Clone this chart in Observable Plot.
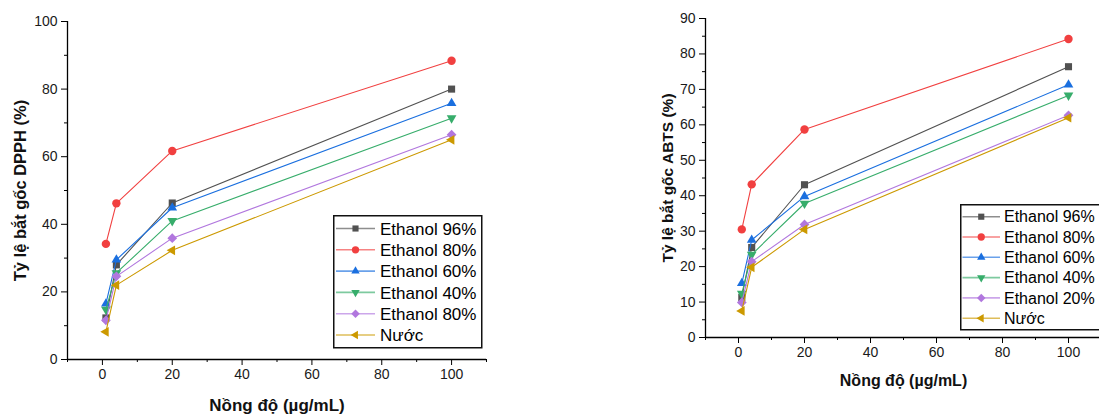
<!DOCTYPE html>
<html><head><meta charset="utf-8">
<script src="https://cdn.jsdelivr.net/npm/d3@7"></script>
<script src="https://cdn.jsdelivr.net/npm/@observablehq/plot@0.6"></script>
<style>
html,body{margin:0;padding:0;background:#fff;}
body{width:1099px;height:414px;overflow:hidden;position:relative;font-family:"Liberation Sans",Arial,sans-serif;}
.panel{position:absolute;top:0;height:414px;}
.panel svg{max-width:none !important;}
.legend{position:absolute;background:#fff;}
</style></head><body>
<script>
// ---- data ----
const concentrations = [1, 4, 20, 100];
const namesDPPH = ["Ethanol 96%", "Ethanol 80%", "Ethanol 60%", "Ethanol 40%", "Ethanol 80%", "Nước"];
const namesABTS = ["Ethanol 96%", "Ethanol 80%", "Ethanol 60%", "Ethanol 40%", "Ethanol 20%", "Nước"];

const dpphE96 = [12.3, 28.0, 46.3, 80.0];
const dpphE80 = [34.2, 46.2, 61.7, 88.4];
const dpphE60 = [16.5, 29.5, 44.9, 75.8];
const dpphE40 = [14.8, 25.6, 41.0, 71.4];
const dpphE80b = [11.6, 24.6, 35.9, 66.5];
const dpphWater = [8.2, 22.0, 32.3, 65.0];

const abtsE96 = [11.3, 25.4, 43.1, 76.4];
const abtsE80 = [30.5, 43.2, 58.7, 84.2];
const abtsE60 = [15.3, 27.5, 39.8, 71.3];
const abtsE40 = [12.4, 23.4, 37.8, 68.3];
const abtsE20 = [9.9, 21.4, 31.9, 62.7];
const abtsWater = [7.5, 19.8, 30.5, 62.0];

const xMajorTicks = [0, 20, 40, 60, 80, 100];
const xMinorTicks = [-10, 10, 30, 50, 70, 90, 110];
const dpphMajorTicks = [0, 20, 40, 60, 80, 100];
const dpphMinorTicks = [10, 30, 50, 70, 90];
const abtsMajorTicks = [0, 10, 20, 30, 40, 50, 60, 70, 80, 90];
const abtsMinorTicks = [5, 15, 25, 35, 45, 55, 65, 75, 85];

const xLabel = "Nồng độ (µg/mL)";
const yLabelDPPH = "Tỷ lệ bắt gốc DPPH (%)";
const yLabelABTS = "Tỷ lệ bắt gốc ABTS (%)";

// ---- styles ----
const colors = ["#515151", "#F14040", "#1A6FDF", "#37AD6B", "#B177DE", "#CC9900"];
const symbols = ["square", "circle", "triangle", "triangle", "square", "triangle"];
const rotations = [0, 0, 0, 180, 45, -90];
const radii = [4, 4.2, 3.6, 3.6, 3.9, 3.6];
const d3symbols = {square: d3.symbolSquare, circle: d3.symbolCircle, triangle: d3.symbolTriangle};

function rowsOf(series) {
  const rows = [];
  series.forEach((vals, s) => vals.forEach((v, i) => rows.push({s, x: concentrations[i], y: v})));
  return rows;
}

function makePlot(cfg) {
  const rows = rowsOf(cfg.series);
  const marks = [
    Plot.ruleY([cfg.yDomain[0]], {stroke: "#000", strokeWidth: 1.3}),
    Plot.ruleX([-10], {stroke: "#000", strokeWidth: 1.3}),
    Plot.axisX({ticks: xMajorTicks, tickSize: 6, tickPadding: 4, label: null, fontSize: cfg.tickFont, stroke: "#000", fill: "#1a1a1a"}),
    Plot.axisX({ticks: xMinorTicks, tickSize: 3, tickFormat: () => "", label: null, stroke: "#000"}),
    Plot.axisY({ticks: cfg.yMajor, tickSize: 6, tickPadding: 4, label: null, fontSize: cfg.tickFont, stroke: "#000", fill: "#1a1a1a"}),
    Plot.axisY({ticks: cfg.yMinor, tickSize: 3, tickFormat: () => "", label: null, stroke: "#000"}),
  ];
  cfg.series.forEach((_, s) => {
    const data = rows.filter(d => d.s === s);
    marks.push(Plot.line(data, {x: "x", y: "y", stroke: colors[s], strokeWidth: 1.1}));
    marks.push(Plot.dot(data, {x: "x", y: "y", symbol: symbols[s], rotate: rotations[s], r: radii[s], fill: colors[s], stroke: "none"}));
  });
  marks.push(Plot.text([xLabel], {text: d => d, frameAnchor: "bottom", dy: cfg.xLabelDy, textAnchor: "middle", lineAnchor: "middle", fontWeight: "bold", fontSize: cfg.labelFont, fill: "#111"}));
  marks.push(Plot.text([cfg.yLabel], {text: d => d, frameAnchor: "left", dx: cfg.yLabelDx, rotate: -90, textAnchor: "middle", lineAnchor: "middle", fontWeight: "bold", fontSize: cfg.yLabelFont, fill: "#111"}));
  return Plot.plot({
    width: cfg.width, height: 414,
    marginLeft: cfg.ml, marginRight: cfg.mr, marginTop: cfg.mt, marginBottom: cfg.mb,
    x: {domain: [-10, 110]},
    y: {domain: cfg.yDomain},
    style: {fontFamily: "Liberation Sans, Arial, sans-serif", fontSize: cfg.tickFont + "px", color: "#1a1a1a", background: "transparent", overflow: "visible", maxWidth: "none"},
    marks
  });
}

function makeLegend(cfg) {
  const div = document.createElement("div");
  div.className = "legend";
  div.style.left = cfg.left + "px";
  div.style.top = cfg.top + "px";
  const svg = d3.create("svg").attr("width", cfg.w + 2).attr("height", cfg.h + 2);
  svg.append("rect").attr("x", 0.75).attr("y", 0.75).attr("width", cfg.w).attr("height", cfg.h)
    .attr("fill", "#fff").attr("stroke", "#111").attr("stroke-width", 1.5);
  cfg.names.forEach((name, s) => {
    const cy = cfg.firstRow + s * cfg.rowH;
    const g = svg.append("g");
    g.append("line").attr("x1", cfg.lx1).attr("x2", cfg.lx2).attr("y1", cy).attr("y2", cy)
      .attr("stroke", colors[s]).attr("stroke-width", 1.6).attr("stroke-opacity", 0.65);
    const size = Math.PI * radii[s] * radii[s] * 0.75;
    g.append("path").attr("d", d3.symbol(d3symbols[symbols[s]], size)())
      .attr("transform", `translate(${(cfg.lx1 + cfg.lx2) / 2},${cy}) rotate(${rotations[s]})`)
      .attr("fill", colors[s]);
    g.append("text").attr("x", cfg.tx).attr("y", cy).attr("dy", "0.36em")
      .attr("font-size", cfg.font).attr("fill", "#000")
      .attr("font-family", "Liberation Sans, Arial, sans-serif").text(name);
  });
  div.appendChild(svg.node());
  return div;
}

const left = makePlot({
  series: [dpphE96, dpphE80, dpphE60, dpphE40, dpphE80b, dpphWater],
  width: 500, ml: 67, mr: 14, mt: 21, mb: 55,
  yDomain: [0, 100], yMajor: dpphMajorTicks, yMinor: dpphMinorTicks,
  tickFont: 14, labelFont: 17, yLabelFont: 16.5, xLabelDy: 46, yLabelDx: -47, yLabel: yLabelDPPH
});
const leftWrap = document.createElement("div");
leftWrap.className = "panel"; leftWrap.style.left = "0px"; leftWrap.style.width = "500px";
leftWrap.appendChild(left);
document.body.appendChild(leftWrap);

const right = makePlot({
  series: [abtsE96, abtsE80, abtsE60, abtsE40, abtsE20, abtsWater],
  width: 510, ml: 105, mr: 9, mt: 18, mb: 77,
  yDomain: [0, 90], yMajor: abtsMajorTicks, yMinor: abtsMinorTicks,
  tickFont: 14, labelFont: 16, yLabelFont: 15.5, xLabelDy: 43, yLabelDx: -37, yLabel: yLabelABTS
});
const rightWrap = document.createElement("div");
rightWrap.className = "panel"; rightWrap.style.left = "600px"; rightWrap.style.width = "510px";
rightWrap.appendChild(right);
document.body.appendChild(rightWrap);

document.body.appendChild(makeLegend({
  names: namesDPPH, left: 333, top: 215, w: 148, h: 132,
  firstRow: 13.5, rowH: 21.3, lx1: 3, lx2: 42, tx: 47, font: 17
}));
document.body.appendChild(makeLegend({
  names: namesABTS, left: 960, top: 204, w: 146, h: 125,
  firstRow: 12.7, rowH: 20.3, lx1: 2.5, lx2: 40, tx: 44, font: 16
}));
</script>
</body></html>
